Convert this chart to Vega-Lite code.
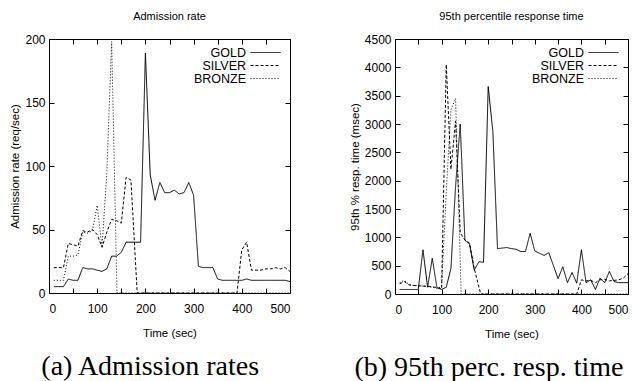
{
  "$schema": "https://vega.github.io/schema/vega-lite/v6.json",
  "padding": {"left": 9, "top": 10, "right": 0, "bottom": 0},
  "background": "white",
  "config": {
    "font": "Liberation Sans, Arial, sans-serif",
    "view": {"stroke": "black", "strokeWidth": 1},
    "axis": {"domain": false, "grid": false, "tickColor": "black", "tickSize": -5, "labelColor": "black", "titleColor": "black", "labelFontSize": 12, "labelFontWeight": "normal", "titleFontSize": 11.5, "titleFontWeight": "normal"},
    "axisX": {"labelPadding": 15, "titlePadding": 13},
    "axisY": {"labelPadding": 9, "titlePadding": 4},
    "concat": {"spacing": 57},
    "title": {"color": "black", "fontWeight": "normal"}
  },
  "datasets": {
    "adm": [
      {"s":"GOLD","t":10,"v":5},{"s":"GOLD","t":20,"v":5},{"s":"GOLD","t":30,"v":5},{"s":"GOLD","t":40,"v":11},{"s":"GOLD","t":50,"v":10},{"s":"GOLD","t":60,"v":10},{"s":"GOLD","t":70,"v":20},{"s":"GOLD","t":80,"v":19},{"s":"GOLD","t":90,"v":19},{"s":"GOLD","t":100,"v":18},{"s":"GOLD","t":110,"v":17},{"s":"GOLD","t":120,"v":19},{"s":"GOLD","t":130,"v":29},{"s":"GOLD","t":140,"v":29},{"s":"GOLD","t":150,"v":32},{"s":"GOLD","t":160,"v":40},{"s":"GOLD","t":170,"v":40},{"s":"GOLD","t":180,"v":40},{"s":"GOLD","t":190,"v":40},{"s":"GOLD","t":200,"v":189},{"s":"GOLD","t":210,"v":93},{"s":"GOLD","t":220,"v":73},{"s":"GOLD","t":230,"v":87},{"s":"GOLD","t":240,"v":79},{"s":"GOLD","t":250,"v":79},{"s":"GOLD","t":260,"v":81},{"s":"GOLD","t":270,"v":78},{"s":"GOLD","t":280,"v":79},{"s":"GOLD","t":290,"v":87},{"s":"GOLD","t":300,"v":77},{"s":"GOLD","t":310,"v":21},{"s":"GOLD","t":320,"v":20},{"s":"GOLD","t":330,"v":20},{"s":"GOLD","t":340,"v":20},{"s":"GOLD","t":350,"v":11},{"s":"GOLD","t":360,"v":10},{"s":"GOLD","t":370,"v":10},{"s":"GOLD","t":380,"v":10},{"s":"GOLD","t":390,"v":10},{"s":"GOLD","t":400,"v":10},{"s":"GOLD","t":410,"v":11},{"s":"GOLD","t":420,"v":10},{"s":"GOLD","t":430,"v":10},{"s":"GOLD","t":440,"v":10},{"s":"GOLD","t":450,"v":10},{"s":"GOLD","t":460,"v":10},{"s":"GOLD","t":470,"v":10},{"s":"GOLD","t":480,"v":10},{"s":"GOLD","t":490,"v":10},{"s":"GOLD","t":500,"v":9},
      {"s":"SILVER","t":10,"v":20},{"s":"SILVER","t":20,"v":20},{"s":"SILVER","t":30,"v":20},{"s":"SILVER","t":40,"v":39},{"s":"SILVER","t":50,"v":38},{"s":"SILVER","t":60,"v":37},{"s":"SILVER","t":70,"v":49},{"s":"SILVER","t":80,"v":48},{"s":"SILVER","t":90,"v":50},{"s":"SILVER","t":100,"v":46},{"s":"SILVER","t":110,"v":36},{"s":"SILVER","t":120,"v":48},{"s":"SILVER","t":130,"v":58},{"s":"SILVER","t":140,"v":57},{"s":"SILVER","t":150,"v":55},{"s":"SILVER","t":160,"v":91},{"s":"SILVER","t":170,"v":89},{"s":"SILVER","t":183,"v":0},{"s":"SILVER","t":200,"v":0},{"s":"SILVER","t":250,"v":0},{"s":"SILVER","t":300,"v":0},{"s":"SILVER","t":350,"v":0},{"s":"SILVER","t":390,"v":0},{"s":"SILVER","t":400,"v":34},{"s":"SILVER","t":410,"v":40},{"s":"SILVER","t":420,"v":18},{"s":"SILVER","t":430,"v":18},{"s":"SILVER","t":440,"v":18},{"s":"SILVER","t":450,"v":19},{"s":"SILVER","t":460,"v":19},{"s":"SILVER","t":470,"v":20},{"s":"SILVER","t":480,"v":19},{"s":"SILVER","t":490,"v":20},{"s":"SILVER","t":500,"v":17},
      {"s":"BRONZE","t":10,"v":10},{"s":"BRONZE","t":20,"v":10},{"s":"BRONZE","t":30,"v":10},{"s":"BRONZE","t":40,"v":29},{"s":"BRONZE","t":50,"v":29},{"s":"BRONZE","t":60,"v":30},{"s":"BRONZE","t":70,"v":48},{"s":"BRONZE","t":80,"v":47},{"s":"BRONZE","t":90,"v":49},{"s":"BRONZE","t":100,"v":69},{"s":"BRONZE","t":110,"v":36},{"s":"BRONZE","t":120,"v":95},{"s":"BRONZE","t":130,"v":198},{"s":"BRONZE","t":141,"v":0},{"s":"BRONZE","t":200,"v":0},{"s":"BRONZE","t":300,"v":0},{"s":"BRONZE","t":400,"v":0},{"s":"BRONZE","t":500,"v":0}
    ],
    "resp": [
      {"s":"GOLD","t":10,"v":80},{"s":"GOLD","t":20,"v":80},{"s":"GOLD","t":30,"v":80},{"s":"GOLD","t":40,"v":80},{"s":"GOLD","t":50,"v":80},{"s":"GOLD","t":60,"v":780},{"s":"GOLD","t":70,"v":120},{"s":"GOLD","t":80,"v":630},{"s":"GOLD","t":90,"v":110},{"s":"GOLD","t":100,"v":80},{"s":"GOLD","t":110,"v":120},{"s":"GOLD","t":120,"v":450},{"s":"GOLD","t":130,"v":1900},{"s":"GOLD","t":140,"v":3000},{"s":"GOLD","t":150,"v":950},{"s":"GOLD","t":160,"v":880},{"s":"GOLD","t":170,"v":420},{"s":"GOLD","t":180,"v":570},{"s":"GOLD","t":190,"v":560},{"s":"GOLD","t":200,"v":3660},{"s":"GOLD","t":210,"v":2870},{"s":"GOLD","t":220,"v":800},{"s":"GOLD","t":230,"v":810},{"s":"GOLD","t":240,"v":820},{"s":"GOLD","t":250,"v":800},{"s":"GOLD","t":260,"v":790},{"s":"GOLD","t":270,"v":750},{"s":"GOLD","t":280,"v":750},{"s":"GOLD","t":290,"v":1070},{"s":"GOLD","t":300,"v":760},{"s":"GOLD","t":310,"v":720},{"s":"GOLD","t":320,"v":680},{"s":"GOLD","t":330,"v":730},{"s":"GOLD","t":340,"v":500},{"s":"GOLD","t":350,"v":270},{"s":"GOLD","t":360,"v":480},{"s":"GOLD","t":370,"v":200},{"s":"GOLD","t":380,"v":380},{"s":"GOLD","t":390,"v":190},{"s":"GOLD","t":400,"v":780},{"s":"GOLD","t":410,"v":200},{"s":"GOLD","t":420,"v":250},{"s":"GOLD","t":430,"v":80},{"s":"GOLD","t":440,"v":280},{"s":"GOLD","t":450,"v":200},{"s":"GOLD","t":460,"v":400},{"s":"GOLD","t":470,"v":220},{"s":"GOLD","t":480,"v":200},{"s":"GOLD","t":490,"v":200},{"s":"GOLD","t":500,"v":200},
      {"s":"SILVER","t":10,"v":180},{"s":"SILVER","t":20,"v":220},{"s":"SILVER","t":30,"v":160},{"s":"SILVER","t":40,"v":150},{"s":"SILVER","t":50,"v":145},{"s":"SILVER","t":60,"v":140},{"s":"SILVER","t":70,"v":135},{"s":"SILVER","t":80,"v":125},{"s":"SILVER","t":90,"v":115},{"s":"SILVER","t":100,"v":90},{"s":"SILVER","t":110,"v":4050},{"s":"SILVER","t":120,"v":2200},{"s":"SILVER","t":130,"v":3050},{"s":"SILVER","t":140,"v":1080},{"s":"SILVER","t":150,"v":950},{"s":"SILVER","t":160,"v":900},{"s":"SILVER","t":170,"v":450},{"s":"SILVER","t":184,"v":0},{"s":"SILVER","t":250,"v":0},{"s":"SILVER","t":300,"v":0},{"s":"SILVER","t":350,"v":0},{"s":"SILVER","t":390,"v":0},{"s":"SILVER","t":400,"v":250},{"s":"SILVER","t":410,"v":230},{"s":"SILVER","t":420,"v":240},{"s":"SILVER","t":430,"v":200},{"s":"SILVER","t":440,"v":250},{"s":"SILVER","t":450,"v":260},{"s":"SILVER","t":460,"v":230},{"s":"SILVER","t":470,"v":240},{"s":"SILVER","t":480,"v":250},{"s":"SILVER","t":490,"v":280},{"s":"SILVER","t":500,"v":360},
      {"s":"BRONZE","t":10,"v":200},{"s":"BRONZE","t":20,"v":240},{"s":"BRONZE","t":30,"v":170},{"s":"BRONZE","t":40,"v":150},{"s":"BRONZE","t":50,"v":150},{"s":"BRONZE","t":60,"v":140},{"s":"BRONZE","t":70,"v":130},{"s":"BRONZE","t":80,"v":120},{"s":"BRONZE","t":90,"v":100},{"s":"BRONZE","t":100,"v":130},{"s":"BRONZE","t":110,"v":1800},{"s":"BRONZE","t":120,"v":3250},{"s":"BRONZE","t":130,"v":3450},{"s":"BRONZE","t":142,"v":0},{"s":"BRONZE","t":200,"v":0},{"s":"BRONZE","t":300,"v":0},{"s":"BRONZE","t":400,"v":0},{"s":"BRONZE","t":500,"v":0}
    ]
  },
  "resolve": {"scale": {"strokeDash": "independent"}, "legend": {"strokeDash": "independent"}},
  "hconcat": [
    {
      "title": {"text": "(a) Admission rates", "orient": "bottom", "font": "Liberation Serif", "fontSize": 28, "fontWeight": "normal", "frame": "bounds", "anchor": "middle", "offset": 14},
      "resolve": {"scale": {"strokeDash": "independent"}, "legend": {"strokeDash": "independent"}},
      "vconcat": [
        {
          "title": {"text": "Admission rate", "fontSize": 11, "fontWeight": "normal", "frame": "group", "anchor": "middle", "offset": 11},
          "width": 241, "height": 254,
          "data": {"name": "adm"},
          "layer": [
            {
              "mark": {"type": "line", "stroke": "black", "strokeWidth": 1, "clip": true},
              "encoding": {
                "x": {"field": "t", "type": "quantitative", "scale": {"domain": [0, 500], "nice": false}, "axis": {"title": "Time (sec)", "orient": "bottom", "values": [0,50,100,150,200,250,300,350,400,450,500]}},
                "y": {"field": "v", "type": "quantitative", "scale": {"domain": [0, 200], "nice": false}, "axis": {"title": "Admission rate (req/sec)", "orient": "left", "values": [0,50,100,150,200]}},
                "strokeDash": {"field": "s", "type": "nominal", "scale": {"domain": ["GOLD", "SILVER", "BRONZE"], "range": [[1,0],[3,2],[1,2]]},
                  "legend": {"orient": "top-right", "title": null, "symbolType": "M-2.5,0H2.5", "symbolSize": 144, "symbolStrokeColor": "black", "symbolStrokeWidth": 1, "labelFontSize": 12.5, "labelAlign": "right", "labelOffset": -26, "rowPadding": 0, "offset": 7, "padding": 0}}
              }
            },
            {
              "mark": {"type": "line", "strokeOpacity": 0},
              "encoding": {
                "x": {"field": "t", "type": "quantitative", "axis": {"orient": "top", "labels": false, "title": null, "values": [0,50,100,150,200,250,300,350,400,450,500]}},
                "y": {"field": "v", "type": "quantitative", "axis": {"orient": "right", "labels": false, "title": null, "values": [0,50,100,150,200]}},
                "detail": {"field": "s"}
              }
            }
          ],
          "resolve": {"axis": {"x": "independent", "y": "independent"}}
        }
      ]
    },
    {
      "title": {"text": "(b) 95th perc. resp. time", "orient": "bottom", "font": "Liberation Serif", "fontSize": 28, "fontWeight": "normal", "frame": "bounds", "anchor": "middle", "offset": 14},
      "resolve": {"scale": {"strokeDash": "independent"}, "legend": {"strokeDash": "independent"}},
      "vconcat": [
        {
          "title": {"text": "95th percentile response time", "fontSize": 11, "fontWeight": "normal", "frame": "group", "anchor": "middle", "offset": 11},
          "width": 233, "height": 255,
          "data": {"name": "resp"},
          "layer": [
            {
              "mark": {"type": "line", "stroke": "black", "strokeWidth": 1, "clip": true},
              "encoding": {
                "x": {"field": "t", "type": "quantitative", "scale": {"domain": [0, 500], "nice": false}, "axis": {"title": "Time (sec)", "orient": "bottom", "values": [0,50,100,150,200,250,300,350,400,450,500]}},
                "y": {"field": "v", "type": "quantitative", "scale": {"domain": [0, 4500], "nice": false}, "axis": {"title": "95th % resp. time (msec)", "orient": "left", "format": "d", "values": [0,500,1000,1500,2000,2500,3000,3500,4000,4500]}},
                "strokeDash": {"field": "s", "type": "nominal", "scale": {"domain": ["GOLD", "SILVER", "BRONZE"], "range": [[1,0],[3,2],[1,2]]},
                  "legend": {"orient": "top-right", "title": null, "symbolType": "M-2.5,0H2.5", "symbolSize": 144, "symbolStrokeColor": "black", "symbolStrokeWidth": 1, "labelFontSize": 12.5, "labelAlign": "right", "labelOffset": -26, "rowPadding": 0, "offset": 7, "padding": 0}}
              }
            },
            {
              "mark": {"type": "line", "strokeOpacity": 0},
              "encoding": {
                "x": {"field": "t", "type": "quantitative", "axis": {"orient": "top", "labels": false, "title": null, "values": [0,50,100,150,200,250,300,350,400,450,500]}},
                "y": {"field": "v", "type": "quantitative", "axis": {"orient": "right", "labels": false, "title": null, "values": [0,500,1000,1500,2000,2500,3000,3500,4000,4500]}},
                "detail": {"field": "s"}
              }
            }
          ],
          "resolve": {"axis": {"x": "independent", "y": "independent"}}
        }
      ]
    }
  ]
}
